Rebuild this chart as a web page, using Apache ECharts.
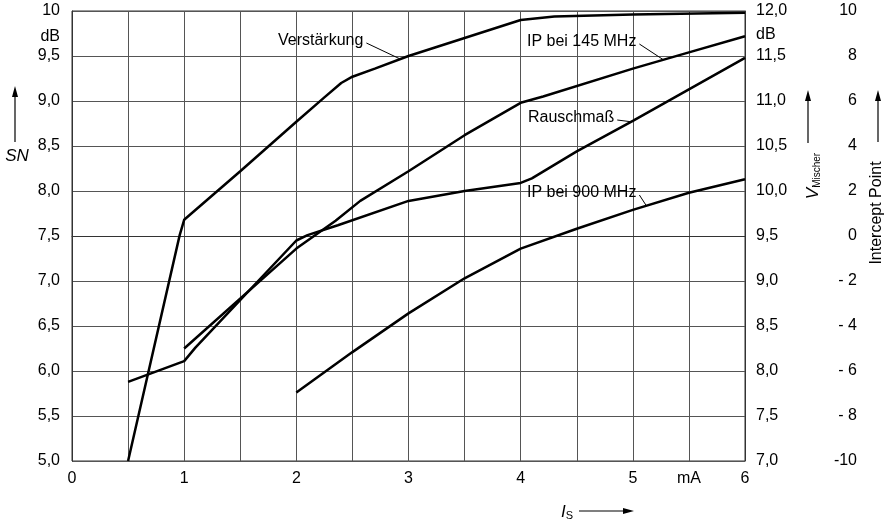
<!DOCTYPE html>
<html><head><meta charset="utf-8">
<script src="https://cdn.jsdelivr.net/npm/echarts@6/dist/echarts.min.js"></script>
<style>html,body{margin:0;padding:0;background:#fff}#c{width:888px;height:523px}</style>
</head><body><div id="c"></div>
<script>
// ---- data ----
const xTickLabels = ['0','','1','','2','','3','','4','','5','mA','6'];

// Verstärkung (V_Mischer, dB) – right axis 7..12
const gainX = [0.5, 0.96, 1.0, 1.5, 2.0, 2.25, 2.4, 2.5, 2.7, 3.0, 3.5, 4.0, 4.3, 5.0, 6.0];
const gainV = [7.0, 9.51, 9.68, 10.22, 10.77, 11.04, 11.2, 11.27, 11.36, 11.5, 11.7, 11.9, 11.94, 11.96, 11.98];

// Rauschmaß (SN, dB) – left axis 5..10
const noiseX  = [0.5, 1.0, 1.1, 2.0, 2.1, 2.37, 3.0, 3.5, 4.0, 4.1, 4.5, 5.0, 5.5, 6.0];
const noiseSN = [5.88, 6.11, 6.26, 7.45, 7.51, 7.62, 7.89, 8.0, 8.09, 8.14, 8.44, 8.78, 9.13, 9.48];

// IP bei 145 MHz (Intercept Point) – right axis -10..10
const ip145X = [1.0, 2.0, 2.35, 2.57, 3.0, 3.5, 4.0, 4.2, 5.0, 5.5, 6.0];
const ip145  = [-5.0, -0.56, 0.68, 1.56, 2.88, 4.48, 5.92, 6.2, 7.44, 8.16, 8.88];

// IP bei 900 MHz (Intercept Point)
const ip900X = [2.0, 2.5, 3.0, 3.5, 4.0, 4.5, 5.0, 5.5, 6.0];
const ip900  = [-6.96, -5.16, -3.44, -1.88, -0.56, 0.32, 1.16, 1.92, 2.52];

// ---- chart ----
const zip = (a, b) => a.map((v, i) => [v, b[i]]);
const FONT = 'Liberation Sans';
const GRID = '#555';
const lineStyle = { color: '#000', width: 2.5 };

const chart = echarts.init(document.getElementById('c'));
chart.setOption({
  animation: false,
  backgroundColor: '#fff',
  grid: { left: 72, right: 143, top: 11, bottom: 62, show: true, borderColor: '#333', borderWidth: 1,
          containLabel: false, outerBoundsMode: 'none' },
  xAxis: {
    type: 'value', min: 0, max: 6, interval: 0.5,
    axisLine: { show: true, lineStyle: { color: '#333', width: 1 } },
    axisTick: { show: false },
    splitLine: { show: true, lineStyle: { color: GRID, width: 1 } },
    axisLabel: { margin: 10, color: '#000', fontFamily: FONT, fontSize: 16,
      formatter: v => xTickLabels[Math.round(v * 2)] || '' }
  },
  yAxis: [
    { type: 'value', position: 'left', min: 5, max: 10, interval: 0.5,
      axisLine: { show: true, lineStyle: { color: '#333' } }, axisTick: { show: false },
      splitLine: { show: true, lineStyle: { color: GRID, width: 1 } },
      axisLabel: { margin: 12, color: '#000', fontFamily: FONT, fontSize: 16,
        formatter: v => v === 10 ? '10' : v.toFixed(1).replace('.', ',') } },
    { type: 'value', position: 'right', min: 7, max: 12, interval: 0.5,
      axisLine: { show: true, lineStyle: { color: '#333' } }, axisTick: { show: false },
      splitLine: { show: false },
      axisLabel: { margin: 11, color: '#000', fontFamily: FONT, fontSize: 16,
        formatter: v => v.toFixed(1).replace('.', ',') } },
    { type: 'value', position: 'right', min: -10, max: 10, interval: 2,
      axisLine: { show: false }, axisTick: { show: false }, splitLine: { show: false },
      axisLabel: { margin: 112, align: 'right', color: '#000', fontFamily: FONT, fontSize: 16,
        formatter: v => v < 0 ? '-' + (Math.abs(v) < 10 ? ' ' : '') + Math.abs(v) : String(v) } }
  ],
  series: [
    { name: 'Verstärkung', type: 'line', yAxisIndex: 1, data: zip(gainX, gainV), symbol: 'none', lineStyle },
    { name: 'Rauschmaß', type: 'line', yAxisIndex: 0, data: zip(noiseX, noiseSN), symbol: 'none', lineStyle },
    { name: 'IP bei 145 MHz', type: 'line', yAxisIndex: 2, data: zip(ip145X, ip145), symbol: 'none', lineStyle },
    { name: 'IP bei 900 MHz', type: 'line', yAxisIndex: 2, data: zip(ip900X, ip900), symbol: 'none', lineStyle }
  ]
});

// ---- annotations ----
const px = (yi, x, y) => chart.convertToPixel({ xAxisIndex: 0, yAxisIndex: yi }, [x, y]);
const txt = (x, y, text, extra) => ({ type: 'text', x, y, z: 10,
  style: Object.assign({ text, fill: '#000', font: '16px ' + FONT, textAlign: 'left', textVerticalAlign: 'middle' }, extra || {}) });
const seg = (a, b, w) => ({ type: 'line', z: 10, shape: { x1: a[0], y1: a[1], x2: b[0], y2: b[1] },
  style: { stroke: '#000', lineWidth: w || 1 } });
const head = (tip, dir) => {
  const [x, y] = tip;
  const pts = dir === 'up' ? [[x, y], [x - 3, y + 11], [x + 3, y + 11]] : [[x, y], [x - 11, y - 3], [x - 11, y + 3]];
  return { type: 'polygon', z: 10, shape: { points: pts }, style: { fill: '#000' } };
};

const labels = [
  { text: 'Verstärkung',    x: 278, y: 41,  yi: 1, ax: 2.92, ay: 11.47 },
  { text: 'IP bei 145 MHz', x: 527, y: 42,  yi: 2, ax: 5.27, ay: 7.84 },
  { text: 'Rauschmaß',      x: 528, y: 118, yi: 0, ax: 4.98, ay: 8.77 },
  { text: 'IP bei 900 MHz', x: 527, y: 193, yi: 2, ax: 5.12, ay: 1.35 }
];
const g = [];
labels.forEach(l => {
  g.push(txt(l.x, l.y, l.text, { font: '16px ' + FONT }));
  const w = echarts.format.getTextRect ? echarts.format.getTextRect(l.text, '16px ' + FONT).width : l.text.length * 8;
  const p = px(l.yi, l.ax, l.ay);
  g.push(seg([l.x + w + 3, l.y + 2], p, 1));
});

// dB unit labels
g.push(txt(60, 37, 'dB', { font: '16px ' + FONT, textAlign: 'right' }));
g.push(txt(756, 35, 'dB', { font: '16px ' + FONT }));

// SN axis name with arrow
g.push(seg([15, 142], [15, 95], 1.2));
g.push(head([15, 86], 'up'));
g.push(txt(17, 156, 'SN', { font: 'italic 17px ' + FONT, textAlign: 'center' }));

// V_Mischer
g.push(seg([808, 143], [808, 99], 1.2));
g.push(head([808, 90], 'up'));
g.push({ type: 'text', x: 812, y: 176, rotation: Math.PI / 2, z: 10,
  style: { text: '{v|V}{s|Mischer}', textAlign: 'center', textVerticalAlign: 'middle',
    rich: { v: { font: 'italic 17px ' + FONT, fill: '#000', lineHeight: 20, verticalAlign: 'bottom' },
            s: { font: '10px ' + FONT, fill: '#000', lineHeight: 20, verticalAlign: 'bottom', padding: [6, 0, 0, 0] } } } });

// Intercept Point
g.push(seg([878, 142], [878, 99], 1.2));
g.push(head([878, 90], 'up'));
g.push({ type: 'text', x: 877, y: 213, rotation: Math.PI / 2, z: 10,
  style: { text: 'Intercept Point', font: '16px ' + FONT, fill: '#000', textAlign: 'center', textVerticalAlign: 'middle' } });

// I_S with arrow
g.push({ type: 'text', x: 567, y: 511, z: 10,
  style: { text: '{i|I}{s|S}', textAlign: 'center', textVerticalAlign: 'middle',
    rich: { i: { font: 'italic 17px ' + FONT, fill: '#000', lineHeight: 20, verticalAlign: 'bottom' },
            s: { font: '11px ' + FONT, fill: '#000', lineHeight: 20, verticalAlign: 'bottom', padding: [6, 0, 0, 0] } } } });
g.push(seg([579, 511], [625, 511], 1.2));
g.push(head([634, 511], 'right'));

chart.setOption({ graphic: g });
</script>
</body></html>
